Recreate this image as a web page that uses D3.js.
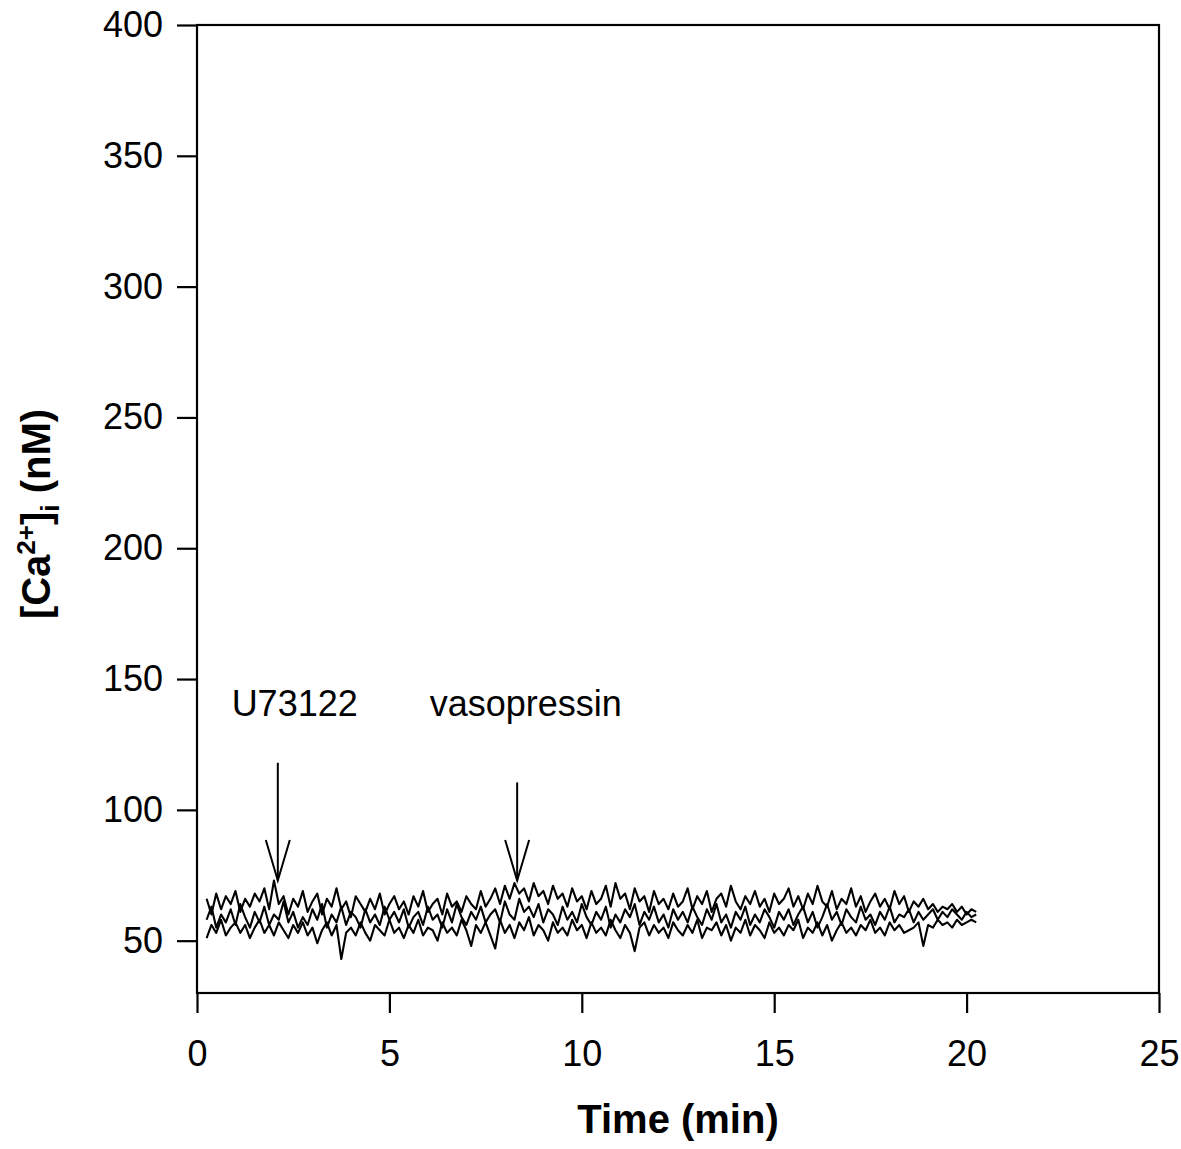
<!DOCTYPE html>
<html>
<head>
<meta charset="utf-8">
<script src="https://cdn.jsdelivr.net/npm/d3@7"></script>
<style>
  html, body { margin: 0; padding: 0; background: #fff; }
  svg { display: block; font-family: "Liberation Sans", Arial, sans-serif; }
</style>
</head>
<body>
<div id="chart"></div>
<script>
// sampling of the recordings (min)
const sampleStart = 0.25;
const sampleStep = 0.125;

// three overlaid [Ca2+]i traces (nM)
const traceA = [
  66, 60, 68, 62, 67, 64, 69, 61, 66, 63, 68, 65, 70, 62, 73, 64, 67, 60, 66, 63,
  69, 61, 65, 68, 60, 66, 63, 70, 62, 65, 59, 67, 64, 61, 66, 62, 68, 60, 64, 67,
  62, 65, 60, 67, 63, 69, 61, 64, 66, 60, 68, 63, 65, 61, 67, 64, 62, 69, 63, 66,
  70, 64, 71, 66, 72, 68, 70, 65, 72, 67, 69, 64, 71, 66, 68, 63, 70, 65, 67, 62,
  69, 64, 66, 71, 63, 72, 66, 68, 62, 70, 65, 67, 61, 69, 64, 66, 62, 68, 63, 65,
  70, 62, 67, 64, 69, 61, 66, 68, 63, 71, 65, 62, 67, 64, 69, 63, 66, 61, 68, 64,
  66, 70, 63, 67, 62, 68, 64, 71, 65, 63, 69, 62, 66, 64, 70, 63, 67, 61, 65, 68,
  63, 66, 62, 69, 64, 67, 61, 65, 63, 66, 62, 64, 61, 63, 62, 64, 61, 63, 60, 62,
  61
];
const traceB = [
  58, 63, 55, 60, 57, 62, 56, 64, 59, 55, 61, 57, 63, 56, 60, 58, 65, 57, 61, 55,
  59, 56, 62, 58, 64, 55, 60, 57, 63, 56, 61, 59, 55, 62, 57, 60, 56, 63, 58, 61,
  57, 62, 55, 59, 61, 56, 63, 58, 60, 55, 62, 57, 64, 59, 56, 61, 58, 63, 57, 60,
  62, 57, 65, 60, 58, 66, 61, 63, 59, 64, 57, 62, 60, 56, 63, 58, 61, 57, 64, 59,
  56, 61, 58, 63, 55, 60, 57, 62, 59, 64, 56, 61, 58, 63, 57, 60, 55, 62, 58, 61,
  57, 63, 59, 56, 62, 58, 64, 57, 60, 55, 61, 58, 63, 56, 60, 57, 62, 59, 55, 61,
  58, 62, 56, 60, 63, 57, 61, 55, 59, 64, 58, 61, 56, 62, 59, 57, 63, 58, 60, 56,
  61, 58, 63, 57, 60, 59, 62, 57, 61, 58, 60, 62, 58, 61, 59, 62, 60, 58, 61, 59,
  60
];
const traceC = [
  51, 56, 53, 58, 52, 55, 57, 53, 56, 51, 55, 58, 53, 56, 52, 57, 54, 51, 56, 53,
  57, 52, 55, 49, 54, 57, 52, 56, 43, 53, 55, 52, 57, 53, 50, 56, 54, 52, 58, 53,
  55, 51, 56, 53, 58, 52, 55, 54, 50, 57, 53, 55, 52, 58, 54, 48, 56, 53, 57, 52,
  47, 58, 53, 56, 51, 57, 54, 59, 52, 56, 54, 50, 57, 53, 55, 52, 58, 54, 56, 51,
  57, 53, 55, 52, 58, 54, 51, 56, 53, 46, 55, 57, 52, 56, 53, 55, 51, 57, 54, 52,
  56, 53, 58, 51, 55, 54, 57, 52, 56, 50, 55, 53, 58, 52, 56, 54, 51, 57, 53, 55,
  52, 56, 54, 58, 51, 55, 53, 57, 52, 56, 50, 54, 57, 53, 55, 52, 56, 54, 58, 53,
  55, 52, 57, 54, 56, 53, 54, 55, 57, 48, 56, 55, 58, 56, 57, 55, 58, 56, 57, 58,
  57
];
const traces = [traceA, traceB, traceC];

// additions marked with arrows
const addLabels = ["U73122", "vasopressin"];
const addTimes = [2.1, 8.32];
const addLabelStart = [0.9, 6.05];

const xTicks = [0, 5, 10, 15, 20, 25];
const yTicks = [50, 100, 150, 200, 250, 300, 350, 400];

const W = 1181, H = 1149;
const pad = { l: 197, t: 25, r: 1159, b: 993 };

const svg = d3.select("#chart").append("svg").attr("width", W).attr("height", H);

const x = d3.scaleLinear().domain([0, 25]).range([pad.l, pad.r]);
const y = d3.scaleLinear().domain([30, 400]).range([pad.b, pad.t]);

// traces
const line = d3.line()
  .x((d, i) => x(sampleStart + i * sampleStep))
  .y((d) => y(d));
svg.append("g")
  .selectAll("path")
  .data(traces)
  .enter()
  .append("path")
  .attr("d", line)
  .attr("fill", "none")
  .attr("stroke", "#000")
  .attr("stroke-width", 2.1)
  .attr("stroke-linejoin", "round");

// frame
svg.append("rect")
  .attr("x", pad.l).attr("y", pad.t)
  .attr("width", pad.r - pad.l).attr("height", pad.b - pad.t)
  .attr("fill", "none").attr("stroke", "#000").attr("stroke-width", 2.2);

// axes
const yAxis = svg.append("g")
  .attr("transform", `translate(${pad.l},0)`)
  .call(d3.axisLeft(y).tickValues(yTicks).tickSize(20).tickPadding(14));
const xAxis = svg.append("g")
  .attr("transform", `translate(0,${pad.b})`)
  .call(d3.axisBottom(x).tickValues(xTicks).tickSize(20).tickPadding(27));
[yAxis, xAxis].forEach((g) => {
  g.select(".domain").remove();
  g.selectAll("line").attr("stroke", "#000").attr("stroke-width", 2.2);
  g.selectAll("text")
    .attr("fill", "#000")
    .attr("font-size", 36)
    .attr("font-family", '"Liberation Sans", Arial, sans-serif');
});

// arrows + labels
const arrows = svg.append("g")
  .selectAll("g")
  .data(addTimes)
  .enter()
  .append("g");
arrows.append("line")
  .attr("x1", (d) => x(d)).attr("x2", (d) => x(d))
  .attr("y1", (d, i) => y(i === 0 ? 118 : 110.5))
  .attr("y2", (d) => y(73))
  .attr("stroke", "#000").attr("stroke-width", 2);
arrows.append("path")
  .attr("d", (d) => {
    const cx = x(d), ty = y(73), by = y(88.5);
    return `M${cx - 12},${by}L${cx},${ty}L${cx + 12},${by}`;
  })
  .attr("fill", "none").attr("stroke", "#000").attr("stroke-width", 2);
svg.append("g")
  .selectAll("text")
  .data(addLabels)
  .enter()
  .append("text")
  .attr("x", (d, i) => x(addLabelStart[i]))
  .attr("y", y(136))
  .attr("font-size", 36)
  .attr("fill", "#000")
  .text((d) => d);

// axis titles
svg.append("text")
  .attr("x", (pad.l + pad.r) / 2)
  .attr("y", 1133)
  .attr("text-anchor", "middle")
  .attr("font-size", 40)
  .attr("font-weight", "bold")
  .text("Time (min)");

const yt = svg.append("text")
  .attr("transform", "translate(50,514) rotate(-90)")
  .attr("text-anchor", "middle")
  .attr("font-size", 40)
  .attr("font-weight", "bold");
yt.append("tspan").text("[Ca");
yt.append("tspan").attr("font-size", 26).attr("dy", -15).text("2+");
yt.append("tspan").attr("dy", 15).text("]");
yt.append("tspan").attr("font-size", 26).attr("dy", 9).text("i");
yt.append("tspan").attr("dy", -9).text(" (nM)");
</script>
</body>
</html>
